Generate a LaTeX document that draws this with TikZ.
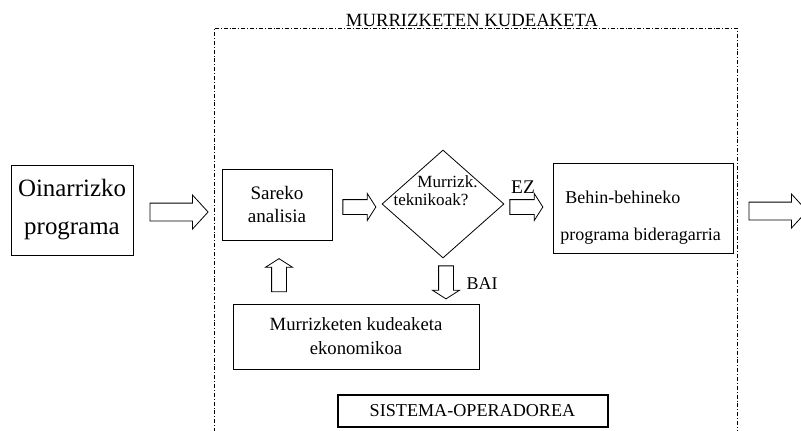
\documentclass[tikz,border=0pt]{standalone}
\usepackage{fontspec}
\setmainfont{Liberation Serif}
\usetikzlibrary{shapes.geometric,shapes.arrows}

\begin{document}
\begin{tikzpicture}[x=0.75pt, y=-0.75pt, line width=0.6pt,
  box/.style={draw, rectangle, inner sep=0pt},
  blockarrow/.style={draw, single arrow, inner sep=0pt, text depth=0pt, single arrow head indent=0pt},
  longarrow/.style={blockarrow, minimum height=43.5pt, text height=12.75pt, single arrow head extend=6pt, single arrow tip angle=95},
  shortarrow/.style={blockarrow, minimum height=24.75pt, text height=10.5pt, single arrow head extend=4.5pt, single arrow tip angle=115},
  frameline/.style={dash pattern=on 3pt off 1.5pt on 0.6pt off 1.5pt}]

\useasboundingbox (0,0) rectangle (801,430);
\clip (0,0) rectangle (801,430);

% dash-dot frame, open at the bottom
\draw[frameline] (214,432) -- (214,28) -- (737,28) -- (737,432);
\node[anchor=south, inner sep=1pt, font=\fontsize{14}{16}\selectfont] (title) at (472,28) {MURRIZKETEN KUDEAKETA};

\node[box, minimum width=91.5pt, minimum height=67.5pt, align=center, font=\fontsize{18.7}{28.5}\selectfont] (prog) at (72,210) {Oinarrizko\\programa};
\node[longarrow] (toframe) at (175,212) {};

\node[box, minimum width=82.5pt, minimum height=53.25pt, align=center, font=\fontsize{14.3}{17}\selectfont] (sareko) at (277,204.5) {Sareko\\analisia};
\node[shortarrow] (todiamond) at (357,207) {};

\node[draw, diamond, inner sep=0pt, minimum width=91.5pt, minimum height=81pt] (tech) at (443,204) {};
\node[font=\fontsize{12.8}{14}\selectfont, inner sep=0pt] (techa) at (447.5,182) {Murrizk.};
\node[font=\fontsize{12.8}{14}\selectfont, inner sep=0pt] (techb) at (431,200) {teknikoak?};

\node[shortarrow] (ez) at (524,207) {};
\node[font=\fontsize{14.5}{16}\selectfont, inner sep=0pt] (ezlabel) at (523,187) {EZ};

\node[box, minimum width=135pt, minimum height=67.5pt] (behin) at (643,208) {};
\node[anchor=west, inner sep=0pt, font=\fontsize{13.5}{16}\selectfont] (behina) at (565,197) {Behin-behineko};
\node[anchor=west, inner sep=0pt, font=\fontsize{13.5}{16}\selectfont] (behinb) at (560,236) {programa bideragarria};
\node[longarrow] (out) at (774,211) {};

\node[shortarrow, rotate=90] (up) at (279,277.5) {};
\node[shortarrow, rotate=-90] (bai) at (446,280) {};
\node[font=\fontsize{13.5}{16}\selectfont, inner sep=0pt] (bailabel) at (482,284) {BAI};

\node[box, minimum width=184.5pt, minimum height=48.75pt, align=center, font=\fontsize{14}{18}\selectfont] (econ) at (356,336.5) {Murrizketen kudeaketa\\ekonomikoa};

\node[box, line width=1.5pt, minimum width=202.5pt, minimum height=24pt, font=\fontsize{13.6}{16}\selectfont] (sistema) at (472.5,410.5) {SISTEMA-OPERADOREA};

\end{tikzpicture}
\end{document}
